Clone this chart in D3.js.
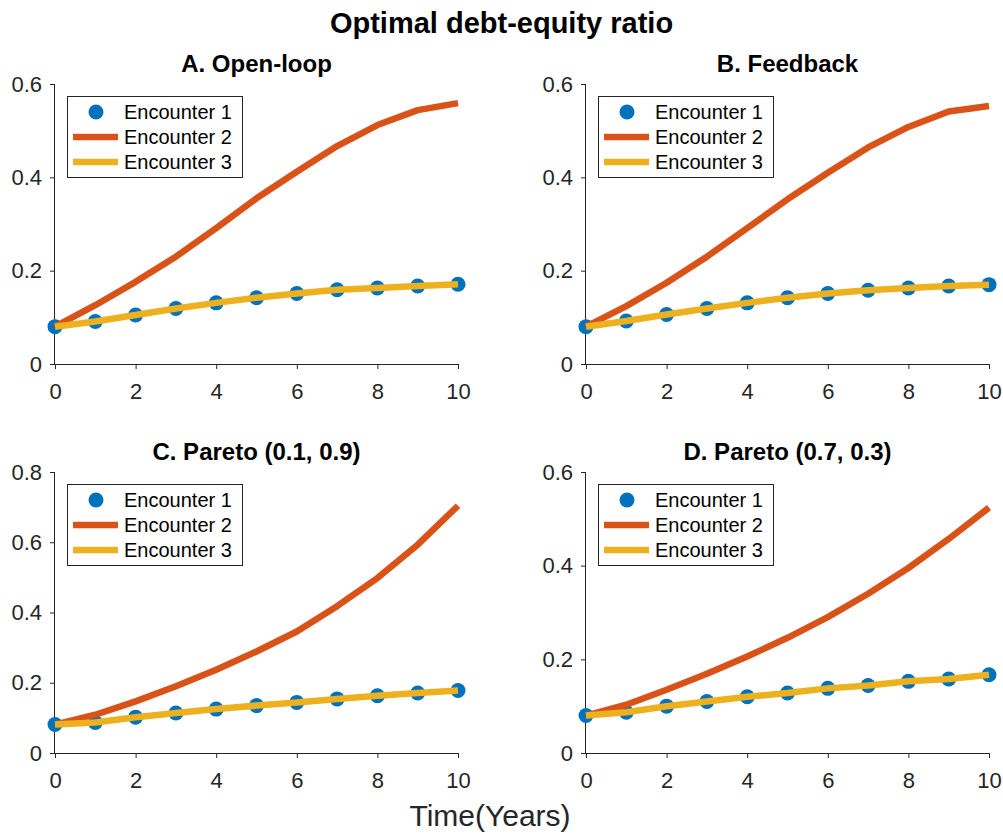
<!DOCTYPE html>
<html>
<head>
<meta charset="utf-8">
<script src="https://cdn.jsdelivr.net/npm/d3@7"></script>
<style>
  body { margin: 0; background: #fff; }
  svg { font-family: "Liberation Sans", Arial, sans-serif; }
</style>
</head>
<body>
<div id="chart"></div>
<script>
// data
const years = [0, 1, 2, 3, 4, 5, 6, 7, 8, 9, 10];
const seriesNames = ["Encounter 1", "Encounter 2", "Encounter 3"];
const panelTitles = ["A. Open-loop", "B. Feedback", "C. Pareto (0.1, 0.9)", "D. Pareto (0.7, 0.3)"];
const yMax = [0.6, 0.6, 0.8, 0.6];
const yTicks = [[0, 0.2, 0.4, 0.6], [0, 0.2, 0.4, 0.6], [0, 0.2, 0.4, 0.6, 0.8], [0, 0.2, 0.4, 0.6]];
const xTicks = [0, 2, 4, 6, 8, 10];

const openLoopE1 = [0.080, 0.091, 0.105, 0.119, 0.131, 0.142, 0.151, 0.159, 0.163, 0.167, 0.171];
const openLoopE2 = [0.080, 0.126, 0.176, 0.230, 0.291, 0.355, 0.412, 0.467, 0.512, 0.544, 0.559];
const openLoopE3 = [0.080, 0.091, 0.105, 0.119, 0.131, 0.142, 0.151, 0.159, 0.163, 0.167, 0.171];

const feedbackE1 = [0.080, 0.092, 0.106, 0.119, 0.131, 0.142, 0.151, 0.158, 0.163, 0.167, 0.170];
const feedbackE2 = [0.080, 0.124, 0.174, 0.230, 0.291, 0.353, 0.410, 0.464, 0.508, 0.541, 0.553];
const feedbackE3 = [0.080, 0.092, 0.106, 0.119, 0.131, 0.142, 0.151, 0.158, 0.163, 0.167, 0.170];

const pareto19E1 = [0.081, 0.087, 0.102, 0.114, 0.125, 0.135, 0.144, 0.154, 0.163, 0.171, 0.178];
const pareto19E2 = [0.081, 0.109, 0.147, 0.190, 0.237, 0.289, 0.346, 0.418, 0.498, 0.593, 0.704];
const pareto19E3 = [0.081, 0.087, 0.102, 0.114, 0.125, 0.135, 0.144, 0.154, 0.163, 0.171, 0.178];

const pareto73E1 = [0.080, 0.087, 0.100, 0.110, 0.120, 0.128, 0.138, 0.144, 0.153, 0.158, 0.167];
const pareto73E2 = [0.080, 0.103, 0.135, 0.169, 0.206, 0.246, 0.290, 0.340, 0.395, 0.457, 0.524];
const pareto73E3 = [0.080, 0.087, 0.100, 0.110, 0.120, 0.128, 0.138, 0.144, 0.153, 0.158, 0.167];

const panelData = [
  [openLoopE1, openLoopE2, openLoopE3],
  [feedbackE1, feedbackE2, feedbackE3],
  [pareto19E1, pareto19E2, pareto19E3],
  [pareto73E1, pareto73E2, pareto73E3]
];

// matlab default colours
const colors = ["#0072BD", "#D95319", "#EDB120"];
const axisColor = "#262626";

const width = 1003, height = 839;
// plot boxes [left, right, top, bottom]
const boxes = [
  [55, 458, 84, 364],
  [586, 989, 84, 364],
  [55, 458, 472, 753],
  [586, 989, 472, 753]
];

const svg = d3.select("#chart").append("svg")
  .attr("width", width)
  .attr("height", height);

svg.append("text")
  .attr("x", 501.5).attr("y", 33)
  .attr("text-anchor", "middle")
  .style("font-size", "29px").style("font-weight", "bold")
  .attr("fill", "#000")
  .text("Optimal debt-equity ratio");

svg.append("text")
  .attr("x", 490).attr("y", 826)
  .attr("text-anchor", "middle")
  .style("font-size", "30px")
  .attr("fill", axisColor)
  .text("Time(Years)");

boxes.forEach((b, i) => {
  const x = d3.scaleLinear().domain([0, 10]).range([b[0], b[1]]);
  const y = d3.scaleLinear().domain([0, yMax[i]]).range([b[3], b[2]]);
  const g = svg.append("g");

  // axes, box off, ticks outward
  const xAxis = g.append("g")
    .attr("transform", `translate(0,${b[3]})`)
    .call(d3.axisBottom(x).tickValues(xTicks).tickSize(5).tickPadding(16).tickFormat(d3.format("d")));
  const yAxis = g.append("g")
    .attr("transform", `translate(${b[0]},0)`)
    .call(d3.axisLeft(y).tickValues(yTicks[i]).tickSize(5).tickPadding(8).tickFormat(d => d === 0 ? "0" : d3.format(".1f")(d)));
  xAxis.select(".domain").attr("d", `M${b[0]},0.5H${b[1]}`);
  yAxis.select(".domain").attr("d", `M-0.5,${b[3]}V${b[2]}`);
  [xAxis, yAxis].forEach(a => {
    a.select(".domain").attr("stroke", axisColor).attr("stroke-width", 1);
    a.selectAll(".tick line").attr("stroke", axisColor);
    a.selectAll(".tick text").attr("fill", axisColor).style("font-size", "22px");
  });
  xAxis.selectAll(".tick text").attr("dy", "0.62em");

  // title
  g.append("text")
    .attr("x", (b[0] + b[1]) / 2).attr("y", i < 2 ? 72 : 460)
    .attr("text-anchor", "middle")
    .style("font-size", "24px").style("font-weight", "bold")
    .attr("fill", "#000")
    .text(panelTitles[i]);

  const series = panelData[i];
  // encounter 1 markers
  g.selectAll("circle.e1")
    .data(years)
    .enter().append("circle")
    .attr("class", "e1")
    .attr("cx", d => x(d))
    .attr("cy", (d, k) => y(series[0][k]))
    .attr("r", 7.5)
    .attr("fill", colors[0]);

  // encounter 2 and 3 lines
  [1, 2].forEach(s => {
    const ln = d3.line().x(d => x(d[0])).y(d => y(d[1]));
    g.append("path")
      .datum(years.map((yr, k) => [yr, series[s][k]]))
      .attr("d", ln)
      .attr("fill", "none")
      .attr("stroke", colors[s])
      .attr("stroke-width", 6.5)
      .attr("stroke-linejoin", "round");
  });

  // legend
  const lx = b[0] + 12, ly = b[2] + 12;
  const lg = g.append("g").attr("transform", `translate(${lx},${ly})`);
  lg.append("rect")
    .attr("x", 0.5).attr("y", 0.5)
    .attr("width", 175).attr("height", 81)
    .attr("fill", "#fff")
    .attr("stroke", axisColor).attr("stroke-width", 1);
  seriesNames.forEach((name, s) => {
    const cy = 16 + s * 25;
    if (s === 0) {
      lg.append("circle").attr("cx", 29).attr("cy", cy).attr("r", 7.5).attr("fill", colors[0]);
    } else {
      lg.append("line")
        .attr("x1", 6).attr("x2", 51).attr("y1", cy).attr("y2", cy)
        .attr("stroke", colors[s]).attr("stroke-width", 6.5);
    }
    lg.append("text")
      .attr("x", 57).attr("y", cy)
      .attr("dy", "0.35em")
      .style("font-size", "20px")
      .attr("fill", "#000")
      .text(name);
  });
});
</script>
</body>
</html>
